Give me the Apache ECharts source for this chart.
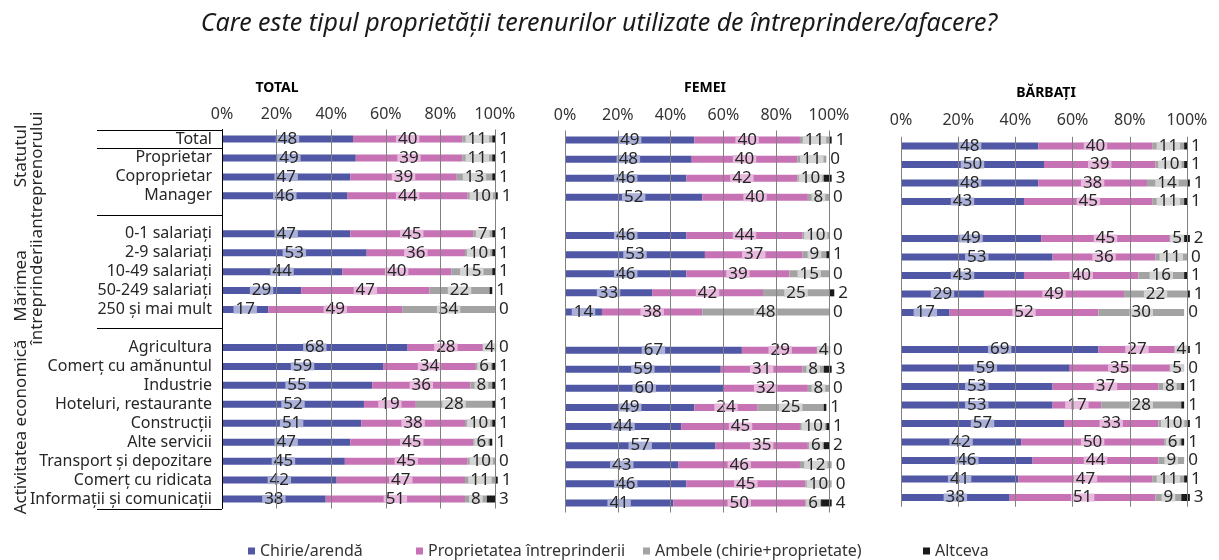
<!DOCTYPE html>
<html>
<head>
<meta charset="utf-8">
<script src="https://cdn.jsdelivr.net/npm/echarts@6/dist/echarts.min.js"></script>
<style>
  html, body { margin: 0; padding: 0; background: #ffffff; }
  #chart { width: 1219px; height: 560px; }
</style>
</head>
<body>
<div id="chart"></div>
<script>
// Row labels, top to bottom; the two blank entries are spacer rows between groups
const categories = [
  'Total', 'Proprietar', 'Coproprietar', 'Manager', '',
  '0-1 salariați', '2-9 salariați', '10-49 salariați', '50-249 salariați', '250 și mai mult', ' ',
  'Agricultura', 'Comerț cu amănuntul', 'Industrie', 'Hoteluri, restaurante', 'Construcții',
  'Alte servicii', 'Transport și depozitare', 'Comerț cu ridicata', 'Informații și comunicații'
];

const seriesNames = ['Chirie/arendă', 'Proprietatea întreprinderii', 'Ambele (chirie+proprietate)', 'Altceva'];
const panelTitles = ['TOTAL', 'FEMEI', 'BĂRBAȚI'];
const tickValues = [0, 20, 40, 60, 80, 100];

// TOTAL
const totalChirie  = [48, 49, 47, 46, null, 47, 53, 44, 29, 17, null, 68, 59, 55, 52, 51, 47, 45, 42, 38];
const totalProp    = [40, 39, 39, 44, null, 45, 36, 40, 47, 49, null, 28, 34, 36, 19, 38, 45, 45, 47, 51];
const totalAmbele  = [11, 11, 13, 10, null, 7, 10, 15, 22, 34, null, 4, 6, 8, 28, 10, 6, 10, 11, 8];
const totalAltceva = [1, 1, 1, 1, null, 1, 1, 1, 1, 0, null, 0, 1, 1, 1, 1, 1, 0, 1, 3];

// FEMEI
const femeiChirie  = [49, 48, 46, 52, null, 46, 53, 46, 33, 14, null, 67, 59, 60, 49, 44, 57, 43, 46, 41];
const femeiProp    = [40, 40, 42, 40, null, 44, 37, 39, 42, 38, null, 29, 31, 32, 24, 45, 35, 46, 45, 50];
const femeiAmbele  = [11, 11, 10, 8, null, 10, 9, 15, 25, 48, null, 4, 8, 8, 25, 10, 6, 12, 10, 6];
const femeiAltceva = [1, 0, 3, 0, null, 0, 1, 0, 2, 0, null, 0, 3, 0, 1, 1, 2, 0, 0, 4];

// BĂRBAȚI
const barbatiChirie  = [48, 50, 48, 43, null, 49, 53, 43, 29, 17, null, 69, 59, 53, 53, 57, 42, 46, 41, 38];
const barbatiProp    = [40, 39, 38, 45, null, 45, 36, 40, 49, 52, null, 27, 35, 37, 17, 33, 50, 44, 47, 51];
const barbatiAmbele  = [11, 10, 14, 11, null, 5, 11, 16, 22, 30, null, 4, 5, 8, 28, 10, 6, 9, 11, 9];
const barbatiAltceva = [1, 1, 1, 1, null, 2, 0, 1, 1, 0, null, 1, 0, 1, 1, 1, 1, 0, 1, 3];

const panels = [
  [totalChirie, totalProp, totalAmbele, totalAltceva],
  [femeiChirie, femeiProp, femeiAmbele, femeiAltceva],
  [barbatiChirie, barbatiProp, barbatiAmbele, barbatiAltceva]
];

const FONT = '"Noto Sans", "DejaVu Sans", sans-serif';
const TEXT = '#262626';
const barColors = ['#5058a6', '#c672b4', '#a3a3a3', '#1a1a1a'];
const labelBgs  = ['#aab0d8', '#e7badd', '#d4d4d4', null];

// plot areas of the three panels
const grids = [
  { left: 222, top: 129.5, width: 273, height: 379 },
  { left: 565, top: 130.5, width: 264, height: 382 },
  { left: 901, top: 136.75, width: 286, height: 370 }
];
const tickMargins = [7, 7, 8.5];
const titlePos = [ { x: 272, y: 76 }, { x: 700, y: 76 }, { x: 1041, y: 81 } ];

const chart = echarts.init(document.getElementById('chart'), null, { renderer: 'canvas' });

const xAxes = grids.map((g, i) => ({
  type: 'value', gridIndex: i, position: 'top', min: 0, max: 100, interval: 20,
  z: 5,
  axisLine: { show: false }, axisTick: { show: false },
  splitLine: { show: true, lineStyle: { color: '#808080', width: 1 } },
  axisLabel: {
    formatter: v => tickValues.indexOf(v) >= 0 ? v + '%' : '',
    fontSize: 16, fontFamily: FONT, color: '#333333', margin: tickMargins[i]
  }
}));

const yAxes = grids.map((g, i) => ({
  type: 'category', gridIndex: i, data: categories, inverse: true,
  z: 5,
  axisLine: { show: i === 0, lineStyle: { color: '#000000', width: 1 } },
  axisTick: { show: false },
  axisLabel: i === 0
    ? { show: true, fontSize: 16, fontFamily: FONT, color: TEXT, margin: 10, interval: 0 }
    : { show: false }
}));

const series = [];
panels.forEach((cols, p) => {
  cols.forEach((vals, s) => {
    const label = s < 3
      ? { show: true, position: 'inside', color: TEXT, fontSize: 17, fontFamily: FONT,
          backgroundColor: labelBgs[s], padding: [0, 2], lineHeight: 8,
          formatter: d => d.value }
      : { show: true, position: 'right', distance: 4, color: TEXT, fontSize: 17, fontFamily: FONT,
          formatter: d => d.value };
    series.push({
      name: seriesNames[s], type: 'bar', stack: 'panel' + p,
      xAxisIndex: p, yAxisIndex: p, barWidth: 7, clip: false,
      itemStyle: { color: barColors[s] },
      label: label,
      emphasis: { disabled: true },
      data: vals
    });
  });
});

const legendLeft = [243, 411, 638, 918];

const option = {
  animation: false,
  textStyle: { fontFamily: FONT },
  title: [
    { text: 'Care este tipul proprietății terenurilor utilizate de întreprindere/afacere?',
      left: 594, textAlign: 'center', top: 6,
      textStyle: { fontSize: 25, fontStyle: 'italic', fontWeight: 'normal', color: '#1a1a1a', fontFamily: FONT } }
  ].concat(panelTitles.map((t, i) => ({
      text: t, left: titlePos[i].x, top: titlePos[i].y, textAlign: 'center',
      textStyle: { fontSize: 14, fontWeight: 'bold', color: '#000000', fontFamily: FONT }
  }))),
  legend: seriesNames.map((n, i) => ({
    data: [n], left: legendLeft[i], top: 538, icon: 'rect', itemWidth: 7, itemHeight: 7,
    selectedMode: false,
    textStyle: { fontSize: 16, color: '#333333', fontFamily: FONT }
  })),
  grid: grids.map(g => Object.assign({ containLabel: false }, g)),
  xAxis: xAxes,
  yAxis: yAxes,
  series: series
};

chart.setOption(option);

// Row-group separators to the left of the first panel and rotated group captions
const yPix = idx => chart.convertToPixel({ yAxisIndex: 0 }, idx);
const g0 = grids[0];
const lineYs = [
  g0.top,
  (yPix(0) + yPix(1)) / 2,
  yPix(4),
  yPix(10),
  g0.top + g0.height
];
const graphics = lineYs.map(y => ({
  type: 'line', silent: true,
  shape: { x1: 97, y1: Math.round(y) + 0.5, x2: g0.left, y2: Math.round(y) + 0.5 },
  style: { stroke: '#000000', lineWidth: 1 }
}));

const groupCaptions = [
  { text: 'Statutul', x: 21, y: 156 },
  { text: 'antreprenorului', x: 37, y: 175 },
  { text: 'Mărimea', x: 21, y: 286 },
  { text: 'întreprinderii', x: 37, y: 292 },
  { text: 'Activitatea economică', x: 21, y: 427 }
];
groupCaptions.forEach(c => graphics.push({
  type: 'text', silent: true, x: c.x, y: c.y, rotation: Math.PI / 2,
  style: { text: c.text, fill: TEXT, font: '17px ' + FONT, align: 'center', verticalAlign: 'middle' }
}));

chart.setOption({ graphic: graphics });
</script>
</body>
</html>
